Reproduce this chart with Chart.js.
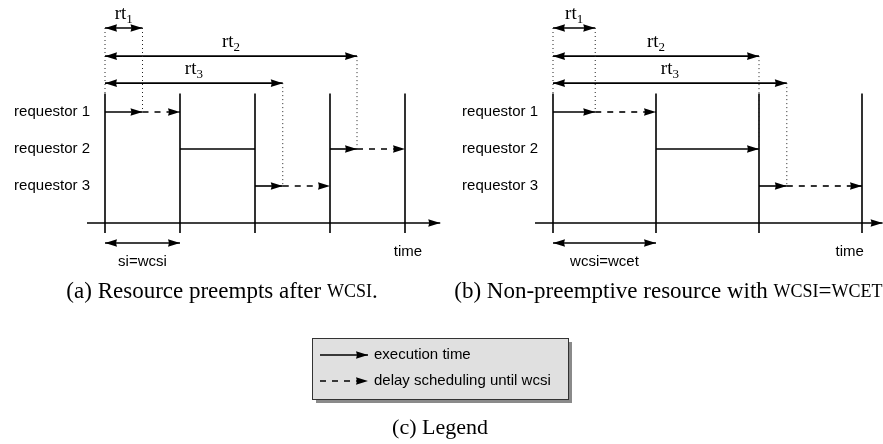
<!DOCTYPE html>
<html>
<head>
<meta charset="utf-8">
<script src="https://cdn.jsdelivr.net/npm/chart.js@4.4.1/dist/chart.umd.min.js"></script>
<style>
  html, body { margin: 0; padding: 0; background: #fff; }
  #wrap { width: 883px; height: 444px; }
</style>
</head>
<body>
<div id="wrap"><canvas id="diagram" width="883" height="444"></canvas></div>
<script>
/* data */
const requestors = ['requestor 1', 'requestor 2', 'requestor 3']

// (a) resource preempts after wcsi, time in slots of wcsi
const aTicks     = [0, 1, 2, 3, 4]
const aExecLane  = [1, 2, 3, 2]
const aExecStart = [0, 1, 2, 3]
const aExecEnd   = [0.5, 2, 2.37, 3.36]
const aExecHead  = [true, false, true, true]
const aDelayEnd  = [1, null, 3, 4]
const aRespTime  = [0.5, 3.36, 2.37]

// (b) non-preemptive resource, wcsi = wcet
const bTicks     = [0, 1, 2, 3]
const bExecLane  = [1, 2, 3]
const bExecStart = [0, 1, 2]
const bExecEnd   = [0.41, 2, 2.27]
const bExecHead  = [true, true, true]
const bDelayEnd  = [1, null, 3]
const bRespTime  = [0.41, 2, 2.27]

const legendLabels = ['execution time', 'delay scheduling until wcsi']

/* layout (lane units on y) */
const RT_ROWS = [-1.27, -0.51, 0.22]
const BAR_TOP = 0.5
const AXIS_ROW = 4
const TICK_BOTTOM = 4.27
const SLOT_ROW = 4.54
const HEAD_LEN = 12
const HEAD_W = 3.8
const SANS = '"Liberation Sans", Arial, sans-serif'
const SERIF = '"Liberation Serif", "Times New Roman", serif'

let panels = [
  { id: 'xa', ticks: aTicks, lane: aExecLane, start: aExecStart, end: aExecEnd, head: aExecHead,
    delay: aDelayEnd, rt: aRespTime, axis: [-0.24, 4.47], slotLabel: 'si=wcsi', timeX: 4.04, capX: 1.56,
    caption: [['(a) Resource preempts after ', false], ['WCSI', true], ['.', false]] },
  { id: 'xb', ticks: bTicks, lane: bExecLane, start: bExecStart, end: bExecEnd, head: bExecHead,
    delay: bDelayEnd, rt: bRespTime, axis: [-0.175, 3.2], slotLabel: 'wcsi=wcet', timeX: 2.88, capX: 1.12,
    caption: [['(b) Non-preemptive resource with ', false], ['WCSI', true], ['=', false], ['WCET', true]] }
]

function seg(axis, x0, y0, x1, y1, kind, heads) {
  let ds = {
    xAxisID: axis,
    data: [{ x: x0, y: y0 }, { x: x1, y: y1 }],
    showLine: true,
    borderColor: '#000',
    borderWidth: 1.6,
    pointRadius: 0,
    heads: heads || ''
  }
  if (kind == 'dash') ds.borderDash = [6, 6]
  if (kind == 'dot') {
    ds.borderDash = [1, 3]
    ds.borderWidth = 1
    ds.borderColor = '#222'
  }
  return ds
}

let datasets = []
panels.forEach(function(p) {
  // dotted guides for response times
  datasets.push(seg(p.id, 0, RT_ROWS[0], 0, BAR_TOP, 'dot'))
  p.rt.forEach(function(r, k) {
    datasets.push(seg(p.id, r, RT_ROWS[k], r, k + 1, 'dot'))
    datasets.push(seg(p.id, 0, RT_ROWS[k], r, RT_ROWS[k], 'solid', 'both'))
  })
  p.ticks.forEach(function(t) {
    datasets.push(seg(p.id, t, BAR_TOP, t, TICK_BOTTOM, 'solid'))
  })
  datasets.push(seg(p.id, p.axis[0], AXIS_ROW, p.axis[1], AXIS_ROW, 'solid', 'end'))
  p.lane.forEach(function(l, i) {
    datasets.push(seg(p.id, p.start[i], l, p.end[i], l, 'solid', p.head[i] ? 'end' : ''))
    if (p.delay[i] != null) {
      datasets.push(seg(p.id, p.end[i], l, p.delay[i], l, 'dash', 'end'))
    }
  })
  datasets.push(seg(p.id, p.ticks[0], SLOT_ROW, p.ticks[1], SLOT_ROW, 'solid', 'both'))
})

function drawHead(ctx, x0, y0, x1, y1) {
  let a = Math.atan2(y1 - y0, x1 - x0)
  ctx.save()
  ctx.translate(x1, y1)
  ctx.rotate(a)
  ctx.beginPath()
  ctx.moveTo(0, 0)
  ctx.lineTo(-HEAD_LEN, -HEAD_W)
  ctx.lineTo(-HEAD_LEN + 1, 0)
  ctx.lineTo(-HEAD_LEN, HEAD_W)
  ctx.closePath()
  ctx.fillStyle = '#000'
  ctx.fill()
  ctx.restore()
}

const arrowHeads = {
  id: 'arrowHeads',
  afterDatasetsDraw(chart) {
    let ctx = chart.ctx
    chart.data.datasets.forEach(function(ds, i) {
      if (!ds.heads) return
      let pts = chart.getDatasetMeta(i).data
      let p0 = pts[0], p1 = pts[1]
      if (ds.heads == 'end' || ds.heads == 'both') drawHead(ctx, p0.x, p0.y, p1.x, p1.y)
      if (ds.heads == 'both') drawHead(ctx, p1.x, p1.y, p0.x, p0.y)
    })
  }
}

function mixedText(ctx, parts, cx, y, size) {
  let small = Math.round(size * 0.78)
  let w = 0
  parts.forEach(function(p) {
    ctx.font = (p[1] ? small : size) + 'px ' + SERIF
    w += ctx.measureText(p[0]).width
  })
  let x = cx - w / 2
  ctx.textAlign = 'left'
  parts.forEach(function(p) {
    ctx.font = (p[1] ? small : size) + 'px ' + SERIF
    ctx.fillText(p[0], x, y)
    x += ctx.measureText(p[0]).width
  })
}

const labels = {
  id: 'labels',
  afterDraw(chart) {
    let ctx = chart.ctx
    let ys = chart.scales.y
    ctx.save()
    ctx.fillStyle = '#000'
    panels.forEach(function(p) {
      let xs = chart.scales[p.id]
      let x0 = xs.getPixelForValue(0)
      // requestor names
      ctx.font = '15px ' + SANS
      ctx.textAlign = 'right'
      ctx.textBaseline = 'middle'
      requestors.forEach(function(r, i) {
        ctx.fillText(r, x0 - 15, ys.getPixelForValue(i + 1))
      })
      // rt labels
      p.rt.forEach(function(r, k) {
        let cx = (x0 + xs.getPixelForValue(r)) / 2
        let by = ys.getPixelForValue(RT_ROWS[k]) - 9
        ctx.textBaseline = 'alphabetic'
        ctx.textAlign = 'left'
        ctx.font = '19px ' + SERIF
        let w1 = ctx.measureText('rt').width
        ctx.font = '13px ' + SERIF
        let w2 = ctx.measureText(String(k + 1)).width
        let sx = cx - (w1 + w2) / 2
        ctx.font = '19px ' + SERIF
        ctx.fillText('rt', sx, by)
        ctx.font = '13px ' + SERIF
        ctx.fillText(String(k + 1), sx + w1, by + 4)
      })
      // slot and time labels
      ctx.font = '15px ' + SANS
      ctx.textAlign = 'center'
      ctx.textBaseline = 'middle'
      let slotMid = (x0 + xs.getPixelForValue(p.ticks[1])) / 2
      ctx.fillText(p.slotLabel, slotMid, ys.getPixelForValue(5.05))
      ctx.fillText('time', xs.getPixelForValue(p.timeX), ys.getPixelForValue(4.78))
      // caption
      ctx.textBaseline = 'middle'
      mixedText(ctx, p.caption, xs.getPixelForValue(p.capX), ys.getPixelForValue(5.865), 23)
    })

    // legend box
    let bx = 312, by = 338, bw = 256, bh = 61
    ctx.fillStyle = '#8a8a8a'
    ctx.fillRect(bx + 4, by + 4, bw, bh)
    ctx.fillStyle = '#e0e0e0'
    ctx.fillRect(bx, by, bw, bh)
    ctx.strokeStyle = '#333'
    ctx.lineWidth = 1
    ctx.strokeRect(bx + 0.5, by + 0.5, bw, bh)
    legendLabels.forEach(function(txt, i) {
      let ly = by + 17 + i * 26
      ctx.strokeStyle = '#000'
      ctx.lineWidth = 1.6
      ctx.setLineDash(i == 0 ? [] : [6, 6])
      ctx.beginPath()
      ctx.moveTo(bx + 8, ly)
      ctx.lineTo(bx + 56, ly)
      ctx.stroke()
      ctx.setLineDash([])
      drawHead(ctx, bx + 8, ly, bx + 56, ly)
      ctx.fillStyle = '#000'
      ctx.font = '15px ' + SANS
      ctx.textAlign = 'left'
      ctx.textBaseline = 'middle'
      ctx.fillText(txt, bx + 62, ly)
    })
    ctx.textBaseline = 'middle'
    mixedText(ctx, [['(c) Legend', false]], bx + bw / 2, 428, 22)
    ctx.restore()
  }
}

let diagram = new Chart(document.querySelector('#diagram').getContext('2d'), {
  type: 'scatter',
  data: { datasets: datasets },
  options: {
    responsive: false,
    animation: false,
    layout: { padding: 0 },
    plugins: { legend: { display: false }, tooltip: { enabled: false } },
    scales: {
      // 75 px per wcsi slot, t=0 at 105 px
      xa: { type: 'linear', display: false, min: -105 / 75, max: (883 - 105) / 75 },
      // 103 px per wcet slot, t=0 at 553 px
      xb: { type: 'linear', display: false, min: -553 / 103, max: (883 - 553) / 103 },
      // 37 px per lane, lane 1 at 112 px
      y: { type: 'linear', display: false, reverse: true, min: 1 - 112 / 37, max: 1 + (444 - 112) / 37 }
    }
  },
  plugins: [arrowHeads, labels]
})
</script>
</body>
</html>
